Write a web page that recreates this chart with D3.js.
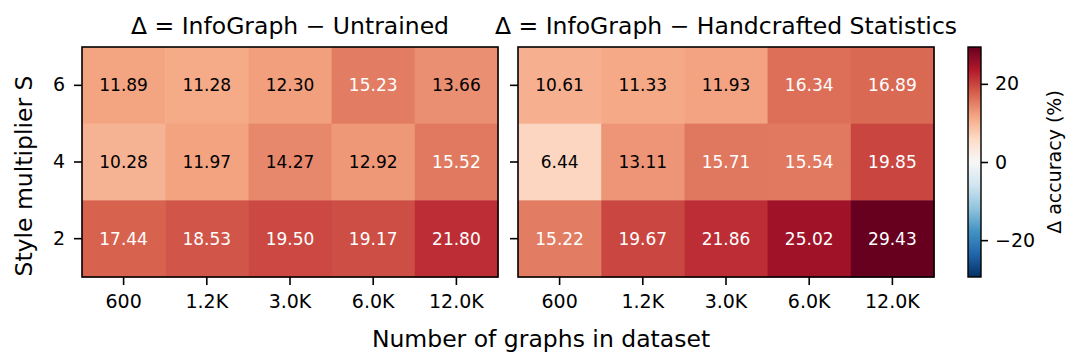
<!DOCTYPE html>
<html>
<head>
<meta charset="utf-8">
<script src="https://cdn.jsdelivr.net/npm/d3@7"></script>
<style>
  body { margin: 0; background: #fff; }
  text { font-family: "DejaVu Sans", sans-serif; }
</style>
</head>
<body>
<div id="chart"></div>
<script>
// data
const sizes = ['600', '1.2K', '3.0K', '6.0K', '12.0K'];
const styles = ['6', '4', '2'];
const untrained = [
  [11.89, 11.28, 12.30, 15.23, 13.66],
  [10.28, 11.97, 14.27, 12.92, 15.52],
  [17.44, 18.53, 19.50, 19.17, 21.80]
];
const handcrafted = [
  [10.61, 11.33, 11.93, 16.34, 16.89],
  [6.44, 13.11, 15.71, 15.54, 19.85],
  [15.22, 19.67, 21.86, 25.02, 29.43]
];
const titles = ['\u0394 = InfoGraph \u2212 Untrained', '\u0394 = InfoGraph \u2212 Handcrafted Statistics'];
const cbTicks = [-20, 0, 20];

const W = 1080, H = 362;
const panels = [
  { x: 82, data: untrained, title: titles[0], labels: true },
  { x: 518, data: handcrafted, title: titles[1], labels: false }
];
const pw = 416, plotTop = 47, ph = 230;
const tickFont = 19;

const vmax = d3.max([...untrained.flat(), ...handcrafted.flat()].map(Math.abs));

// matplotlib RdBu_r as linear segments
const rdbu = ['#053061', '#2166ac', '#4393c3', '#92c5de', '#d1e5f0', '#f7f7f7',
              '#fddbc7', '#f4a582', '#d6604d', '#b2182b', '#67001f'];
const colour = d3.scaleLinear()
  .domain(d3.range(11).map(i => -vmax + i * (2 * vmax / 10)))
  .range(rdbu)
  .interpolate(d3.interpolateRgb)
  .clamp(true);

const svg = d3.select('#chart').append('svg')
  .attr('width', W).attr('height', H);

const styleAxis = a => {
  a.select('.domain').remove();
  a.selectAll('text').attr('font-size', tickFont).attr('fill', '#000')
    .style('font-family', '"DejaVu Sans", sans-serif');
  a.selectAll('line').attr('stroke', '#000').attr('stroke-width', 1.6);
};

panels.forEach(p => {
  const x = d3.scaleBand().domain(sizes).range([p.x, p.x + pw]);
  const y = d3.scaleBand().domain(styles).range([plotTop, plotTop + ph]);
  const g = svg.append('g');

  p.data.forEach((row, i) => {
    row.forEach((v, j) => {
      g.append('rect')
        .attr('x', x(sizes[j])).attr('y', y(styles[i]))
        .attr('width', x.bandwidth() + 0.5).attr('height', y.bandwidth() + 0.5)
        .attr('fill', colour(v));
      g.append('text')
        .attr('x', x(sizes[j]) + x.bandwidth() / 2)
        .attr('y', y(styles[i]) + y.bandwidth() / 2)
        .attr('text-anchor', 'middle')
        .attr('dominant-baseline', 'central')
        .attr('font-size', 17)
        .attr('fill', v > vmax / 2 ? '#fff' : '#000')
        .text(v.toFixed(2));
    });
  });

  g.append('rect')
    .attr('x', p.x).attr('y', plotTop).attr('width', pw).attr('height', ph)
    .attr('fill', 'none').attr('stroke', '#000').attr('stroke-width', 1.6);

  const xAxis = svg.append('g')
    .attr('transform', `translate(0,${plotTop + ph})`)
    .call(d3.axisBottom(x).tickSize(8).tickPadding(10));
  const yAxis = svg.append('g')
    .attr('transform', `translate(${p.x},0)`)
    .call(d3.axisLeft(y).tickSize(8).tickPadding(9).tickFormat(p.labels ? d => d : ''));
  styleAxis(xAxis);
  styleAxis(yAxis);

  svg.append('text')
    .attr('x', p.x + pw / 2).attr('y', 34)
    .attr('text-anchor', 'middle').attr('font-size', 23.5)
    .text(p.title);
});

// axis labels
svg.append('text')
  .attr('x', 541).attr('y', 347)
  .attr('text-anchor', 'middle').attr('font-size', 23.5)
  .text('Number of graphs in dataset');
svg.append('text')
  .attr('transform', `translate(32,176) rotate(-90)`)
  .attr('text-anchor', 'middle').attr('font-size', 23.5)
  .text('Style multiplier S');

// colorbar
const cbX = 968, cbW = 13;
const cy = d3.scaleLinear().domain([-vmax, vmax]).range([plotTop + ph, plotTop]);
const defs = svg.append('defs');
const grad = defs.append('linearGradient').attr('id', 'cb')
  .attr('x1', 0).attr('y1', 1).attr('x2', 0).attr('y2', 0);
rdbu.forEach((c, i) => {
  grad.append('stop').attr('offset', i / 10).attr('stop-color', c);
});
svg.append('rect')
  .attr('x', cbX).attr('y', plotTop).attr('width', cbW).attr('height', ph)
  .attr('fill', 'url(#cb)').attr('stroke', '#000').attr('stroke-width', 1.4);
const cbAxis = svg.append('g')
  .attr('transform', `translate(${cbX + cbW},0)`)
  .call(d3.axisRight(cy).tickValues(cbTicks).tickSize(7).tickPadding(7)
    .tickFormat(d => d < 0 ? '\u2212' + Math.abs(d) : d));
styleAxis(cbAxis);

svg.append('text')
  .attr('transform', `translate(1061,${plotTop + ph / 2}) rotate(-90)`)
  .attr('text-anchor', 'middle').attr('font-size', 19)
  .text('\u0394 accuracy (%)');
</script>
</body>
</html>
